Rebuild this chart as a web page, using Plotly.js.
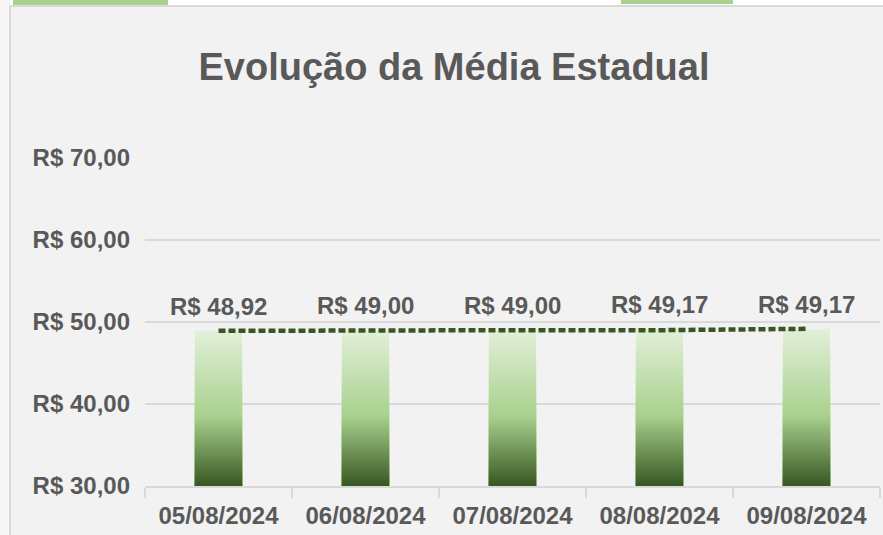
<!DOCTYPE html>
<html>
<head>
<meta charset="utf-8">
<script src="https://cdn.plot.ly/plotly-3.0.1.min.js"></script>
<style>
html,body{margin:0;padding:0;background:#f2f2f2;}
#chart{width:883px;height:535px;}
</style>
</head>
<body>
<div id="chart"></div>
<script>
// ---- data ----
const dates = ['05/08/2024', '06/08/2024', '07/08/2024', '08/08/2024', '09/08/2024'];
const mediaValues = [48.92, 49.00, 49.00, 49.17, 49.17];
const lineValues = [48.92, 49.00, 49.00, 49.00, 49.17];
const yTickValues = [30, 40, 50, 60, 70];
const chartTitle = 'Evolução da Média Estadual';

// ---- styling helpers ----
const axisMin = 30;
const textGray = '#595959';
const gridGray = '#d9d9d9';
const fontFam = 'Liberation Sans, Arial, sans-serif';

function hexToRgb(h){ h=h.replace('#',''); return [parseInt(h.substr(0,2),16),parseInt(h.substr(2,2),16),parseInt(h.substr(4,2),16)]; }
const stops = [[0,'#385723'],[0.45,'#a9d18e'],[1,'#e2f0d9']];
function gradColor(t){
  for(let i=0;i<stops.length-1;i++){
    const [t0,c0]=stops[i], [t1,c1]=stops[i+1];
    if(t>=t0 && t<=t1){
      const f=(t-t0)/(t1-t0), a=hexToRgb(c0), b=hexToRgb(c1);
      return 'rgb('+a.map((v,j)=>Math.round(v+(b[j]-v)*f)).join(',')+')';
    }
  }
  return stops[stops.length-1][1];
}

const fmt = v => 'R$ ' + v.toFixed(2).replace('.', ',');

const traces = [];
const N = 90;
for(let k=N-1;k>=0;k--){
  const frac=(k+1)/N;
  traces.push({
    type:'bar', x:dates, y:mediaValues.map(v=>(v-axisMin)*frac), base:axisMin,
    width:0.32, marker:{color:gradColor((k+0.5)/N), line:{width:0}},
    hoverinfo:'skip', showlegend:false
  });
}
traces.push({
  type:'scatter', mode:'lines', x:dates, y:lineValues,
  line:{color:'#375623', width:4.5, dash:'7px,3px'},
  hoverinfo:'skip', showlegend:false
});

const annotations = dates.map((d,i)=>({
  x:d, y:mediaValues[i], xref:'x', yref:'y', text:fmt(mediaValues[i]),
  showarrow:false, yanchor:'bottom', yshift:9,
  font:{family:fontFam, size:24, color:textGray, weight:'bold'}
}));

const px = x => (x-145)/735, py = y => (486-y)/328;
const shapes = [
  {type:'rect', xref:'paper', yref:'paper', x0:px(-5), x1:px(900), y0:py(6), y1:py(-20), fillcolor:'#ffffff', line:{width:0}, layer:'below'},
  {type:'rect', xref:'paper', yref:'paper', x0:px(-5), x1:px(10), y0:py(560), y1:py(-20), fillcolor:'#f7f7f7', line:{width:0}, layer:'below'},
  {type:'rect', xref:'paper', yref:'paper', x0:px(10), x1:px(900), y0:py(560), y1:py(6), fillcolor:'rgba(0,0,0,0)', line:{color:'#d0d0d0', width:1.5}, layer:'below'},
  {type:'rect', xref:'paper', yref:'paper', x0:px(13), x1:px(168), y0:py(5), y1:py(-20), fillcolor:'#a9d18e', line:{width:0}, layer:'below'},
  {type:'rect', xref:'paper', yref:'paper', x0:px(621), x1:px(733), y0:py(4), y1:py(-20), fillcolor:'#a9d18e', line:{width:0}, layer:'below'}
];

const layout = {
  width:883, height:535,
  margin:{l:145, r:3, t:158, b:49, pad:0},
  paper_bgcolor:'#f2f2f2', plot_bgcolor:'rgba(0,0,0,0)',
  barmode:'overlay', hovermode:false, showlegend:false,
  separators:',.',
  title:{text:chartTitle, xref:'container', yref:'container', x:454/883, y:1-67/535, xanchor:'center', yanchor:'middle',
    font:{family:fontFam, size:38, color:textGray, weight:'bold'}},
  xaxis:{type:'category', range:[-0.5, 4.5], showgrid:false, showline:true, linecolor:gridGray, linewidth:1.5,
    ticks:'outside', tickson:'boundaries', ticklen:10, tickcolor:gridGray, tickwidth:1.5,
    ticklabelstandoff:8, fixedrange:true,
    tickfont:{family:fontFam, size:24, color:textGray, weight:'bold'}},
  yaxis:{range:[30,70], tickmode:'array', tickvals:yTickValues, ticktext:yTickValues.map(fmt),
    showgrid:true, gridcolor:gridGray, gridwidth:1.5, zeroline:false, showline:false, ticks:'',
    ticklabelstandoff:14, fixedrange:true,
    tickfont:{family:fontFam, size:24, color:textGray, weight:'bold'}},
  annotations:annotations,
  shapes:shapes
};

Plotly.newPlot('chart', traces, layout, {displayModeBar:false, staticPlot:true});
</script>
</body>
</html>
